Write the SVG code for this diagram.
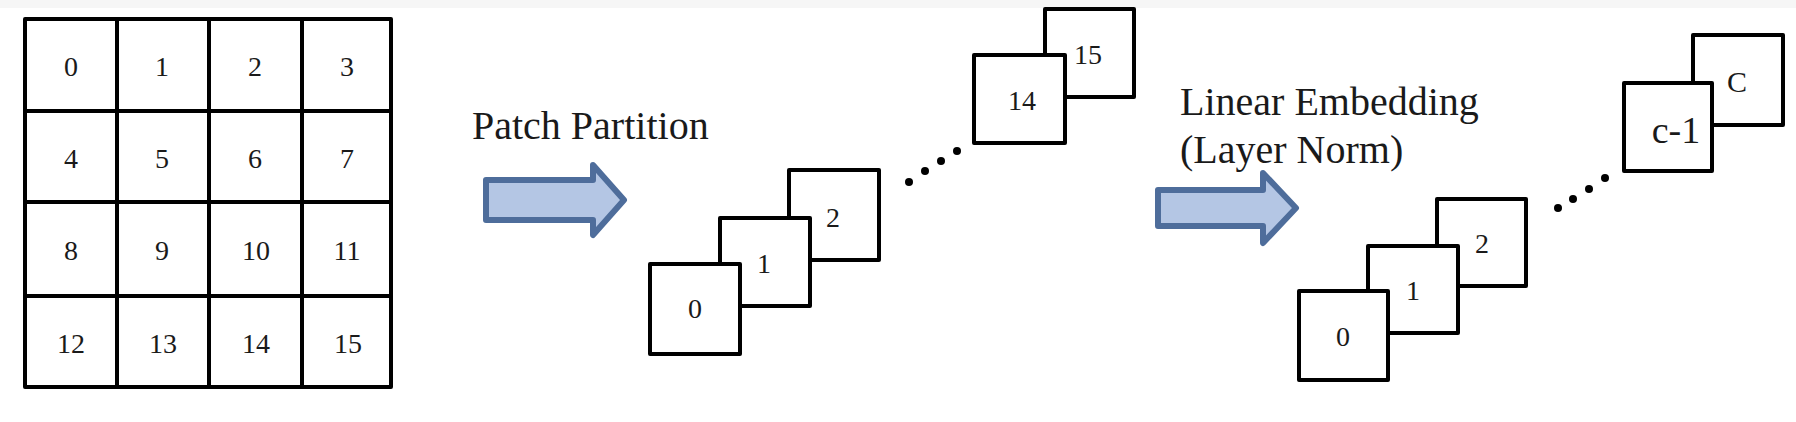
<svg xmlns="http://www.w3.org/2000/svg" width="1796" height="422" viewBox="0 0 1796 422">
<style>
  .cell, .sq { fill: #ffffff; stroke: #000000; stroke-width: 4; stroke-linejoin: round; }
  .num { font-family: "Liberation Serif", "Times New Roman", serif; font-size: 28px; fill: #1a1a1a; text-anchor: middle; }
  .lbl { font-family: "Liberation Serif", "Times New Roman", serif; font-size: 40px; fill: #1a1a1a; }
  .arrow { fill: #b4c6e4; stroke: #4e6d9b; stroke-width: 6; stroke-linejoin: round; }
  .dot { fill: #000000; }
</style>
<rect x="0" y="0" width="1796" height="422" fill="#ffffff"/>
<rect x="0" y="0" width="1796" height="8" fill="#f6f6f6"/>

<g id="grid">
  <g id="cell-0"><rect class="cell" x="25" y="19" width="92" height="92"/><text class="num" x="71" y="76">0</text></g>
  <g id="cell-1"><rect class="cell" x="117" y="19" width="92" height="92"/><text class="num" x="162" y="76">1</text></g>
  <g id="cell-2"><rect class="cell" x="209" y="19" width="93" height="92"/><text class="num" x="255" y="76">2</text></g>
  <g id="cell-3"><rect class="cell" x="302" y="19" width="89" height="92"/><text class="num" x="347" y="76">3</text></g>
  <g id="cell-4"><rect class="cell" x="25" y="111" width="92" height="91"/><text class="num" x="71" y="168">4</text></g>
  <g id="cell-5"><rect class="cell" x="117" y="111" width="92" height="91"/><text class="num" x="162" y="168">5</text></g>
  <g id="cell-6"><rect class="cell" x="209" y="111" width="93" height="91"/><text class="num" x="255" y="168">6</text></g>
  <g id="cell-7"><rect class="cell" x="302" y="111" width="89" height="91"/><text class="num" x="347" y="168">7</text></g>
  <g id="cell-8"><rect class="cell" x="25" y="202" width="92" height="94"/><text class="num" x="71" y="260">8</text></g>
  <g id="cell-9"><rect class="cell" x="117" y="202" width="92" height="94"/><text class="num" x="162" y="260">9</text></g>
  <g id="cell-10"><rect class="cell" x="209" y="202" width="93" height="94"/><text class="num" x="256" y="260">10</text></g>
  <g id="cell-11"><rect class="cell" x="302" y="202" width="89" height="94"/><text class="num" x="347" y="260">11</text></g>
  <g id="cell-12"><rect class="cell" x="25" y="296" width="92" height="91"/><text class="num" x="71" y="353">12</text></g>
  <g id="cell-13"><rect class="cell" x="117" y="296" width="92" height="91"/><text class="num" x="163" y="353">13</text></g>
  <g id="cell-14"><rect class="cell" x="209" y="296" width="93" height="91"/><text class="num" x="256" y="353">14</text></g>
  <g id="cell-15"><rect class="cell" x="302" y="296" width="89" height="91"/><text class="num" x="348" y="353">15</text></g>
</g>

<g id="connectors">
  <path id="arrow-partition" class="arrow" d="M486,180 L593,180 L593,165 L624,200 L593,235 L593,220 L486,220 Z"/>
  <path id="arrow-embedding" class="arrow" d="M1158,190 L1263,190 L1263,173 L1296,208 L1263,243 L1263,226 L1158,226 Z"/>
</g>

<g id="label-partition"><text class="lbl" x="472" y="139">Patch Partition</text></g>
<g id="label-embedding">
  <text class="lbl" x="1180" y="115">Linear Embedding</text>
  <text class="lbl" x="1180" y="163">(Layer Norm)</text>
</g>

<g id="patches">
  <g id="patch-2"><rect class="sq" x="789" y="170" width="90" height="90"/><text class="num" x="833" y="227">2</text></g>
  <g id="patch-1"><rect class="sq" x="720" y="218" width="90" height="88"/><text class="num" x="764" y="273">1</text></g>
  <g id="patch-0"><rect class="sq" x="650" y="264" width="90" height="90"/><text class="num" x="695" y="318">0</text></g>
  <g id="patch-dots">
    <circle class="dot" cx="909" cy="182" r="4"/>
    <circle class="dot" cx="925" cy="171" r="4"/>
    <circle class="dot" cx="941" cy="161" r="4"/>
    <circle class="dot" cx="957" cy="151" r="4"/>
  </g>
  <g id="patch-15"><rect class="sq" x="1045" y="9" width="89" height="88"/><text class="num" x="1088" y="64">15</text></g>
  <g id="patch-14"><rect class="sq" x="974" y="55" width="91" height="88"/><text class="num" x="1022" y="110">14</text></g>
</g>

<g id="embeddings">
  <g id="emb-2"><rect class="sq" x="1437" y="199" width="89" height="87"/><text class="num" x="1482" y="253">2</text></g>
  <g id="emb-1"><rect class="sq" x="1368" y="246" width="90" height="87"/><text class="num" x="1413" y="300">1</text></g>
  <g id="emb-0"><rect class="sq" x="1299" y="291" width="89" height="89"/><text class="num" x="1343" y="346">0</text></g>
  <g id="emb-dots">
    <circle class="dot" cx="1558" cy="208" r="4"/>
    <circle class="dot" cx="1573" cy="199" r="4"/>
    <circle class="dot" cx="1589" cy="189" r="4"/>
    <circle class="dot" cx="1605" cy="178" r="4"/>
  </g>
  <g id="emb-C"><rect class="sq" x="1693" y="35" width="90" height="90"/><text class="num" x="1737" y="92" style="font-size:30px">C</text></g>
  <g id="emb-c-1"><rect class="sq" x="1624" y="83" width="88" height="88"/><text class="num" x="1676" y="143" style="font-size:38px">c-1</text></g>
</g>
</svg>
